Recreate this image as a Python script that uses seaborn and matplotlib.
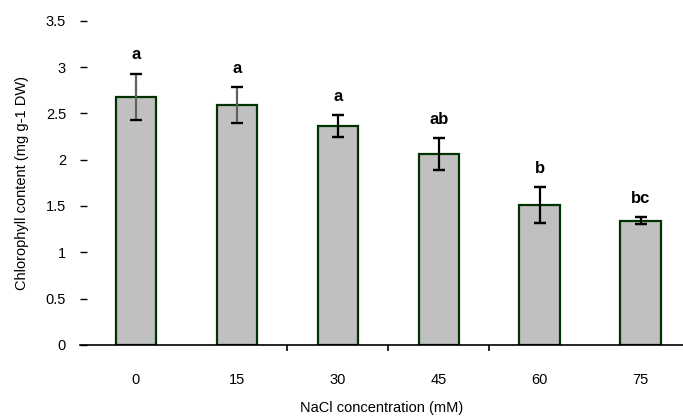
import matplotlib
matplotlib.use("Agg")
import matplotlib.pyplot as plt
import seaborn as sns
import pandas as pd

# data
nacl = ['0', '15', '30', '45', '60', '75']
chlorophyll = [2.68, 2.59, 2.36, 2.06, 1.51, 1.34]
err = [0.25, 0.19, 0.12, 0.17, 0.19, 0.04]
letters = ['a', 'a', 'a', 'ab', 'b', 'bc']
err_colors = ['#606060', '#606060', 'black', 'black', 'black', 'black']

sns.set_style("white", {'xtick.bottom': True, 'ytick.left': True,
                        'text.color': 'black', 'axes.labelcolor': 'black',
                        'xtick.color': 'black', 'ytick.color': 'black'})
plt.rcParams['font.family'] = ['Liberation Sans', 'DejaVu Sans']

df = pd.DataFrame({'nacl': nacl, 'chl': chlorophyll})

fig = plt.figure(figsize=(6.83, 4.16), dpi=100)
ax = fig.add_axes([0.117, 0.171, 0.883, 0.779])

sns.barplot(data=df, x='nacl', y='chl', color='#c0c0c0', saturation=1,
            width=0.4, edgecolor='#003300', linewidth=1.6, ax=ax)

for i, (v, e, c) in enumerate(zip(chlorophyll, err, err_colors)):
    ax.errorbar(i, v, yerr=e, fmt='none', ecolor=c, elinewidth=1.6,
                capsize=4, capthick=1.6)
    ax.errorbar(i, v, yerr=e, fmt='none', ecolor='black', elinewidth=0,
                capsize=4, capthick=1.6)
    ax.text(i, v + e + 0.12, letters[i], ha='center', va='bottom',
            fontsize=12, fontweight='bold', color='black')

ax.set_ylim(0, 3.5)
ax.set_xlim(-0.555, 5.42)
ax.set_yticks([0, 0.5, 1, 1.5, 2, 2.5, 3, 3.5])
ax.set_yticklabels(['0', '0.5', '1', '1.5', '2', '2.5', '3', '3.5'])
ax.set_xticks([1.5, 2.5, 3.5], minor=True)
ax.tick_params(axis='x', which='major', bottom=False, length=0, pad=20, labelsize=10.5)
ax.tick_params(axis='x', which='minor', bottom=True, direction='out', length=4, width=1.2, color='black')
ax.tick_params(axis='y', left=True, direction='in', length=5, width=1, color='black', pad=10, labelsize=10.5)

for s in ['top', 'right', 'left']:
    ax.spines[s].set_visible(False)
ax.spines['bottom'].set_color('black')
ax.spines['bottom'].set_linewidth(1.2)

ax.set_xlabel('NaCl concentration (mM)', fontsize=10.5, labelpad=10)
ax.set_ylabel('Chlorophyll content (mg g-1 DW)', fontsize=10.5, labelpad=12)

fig.savefig('out.png', dpi=100)
